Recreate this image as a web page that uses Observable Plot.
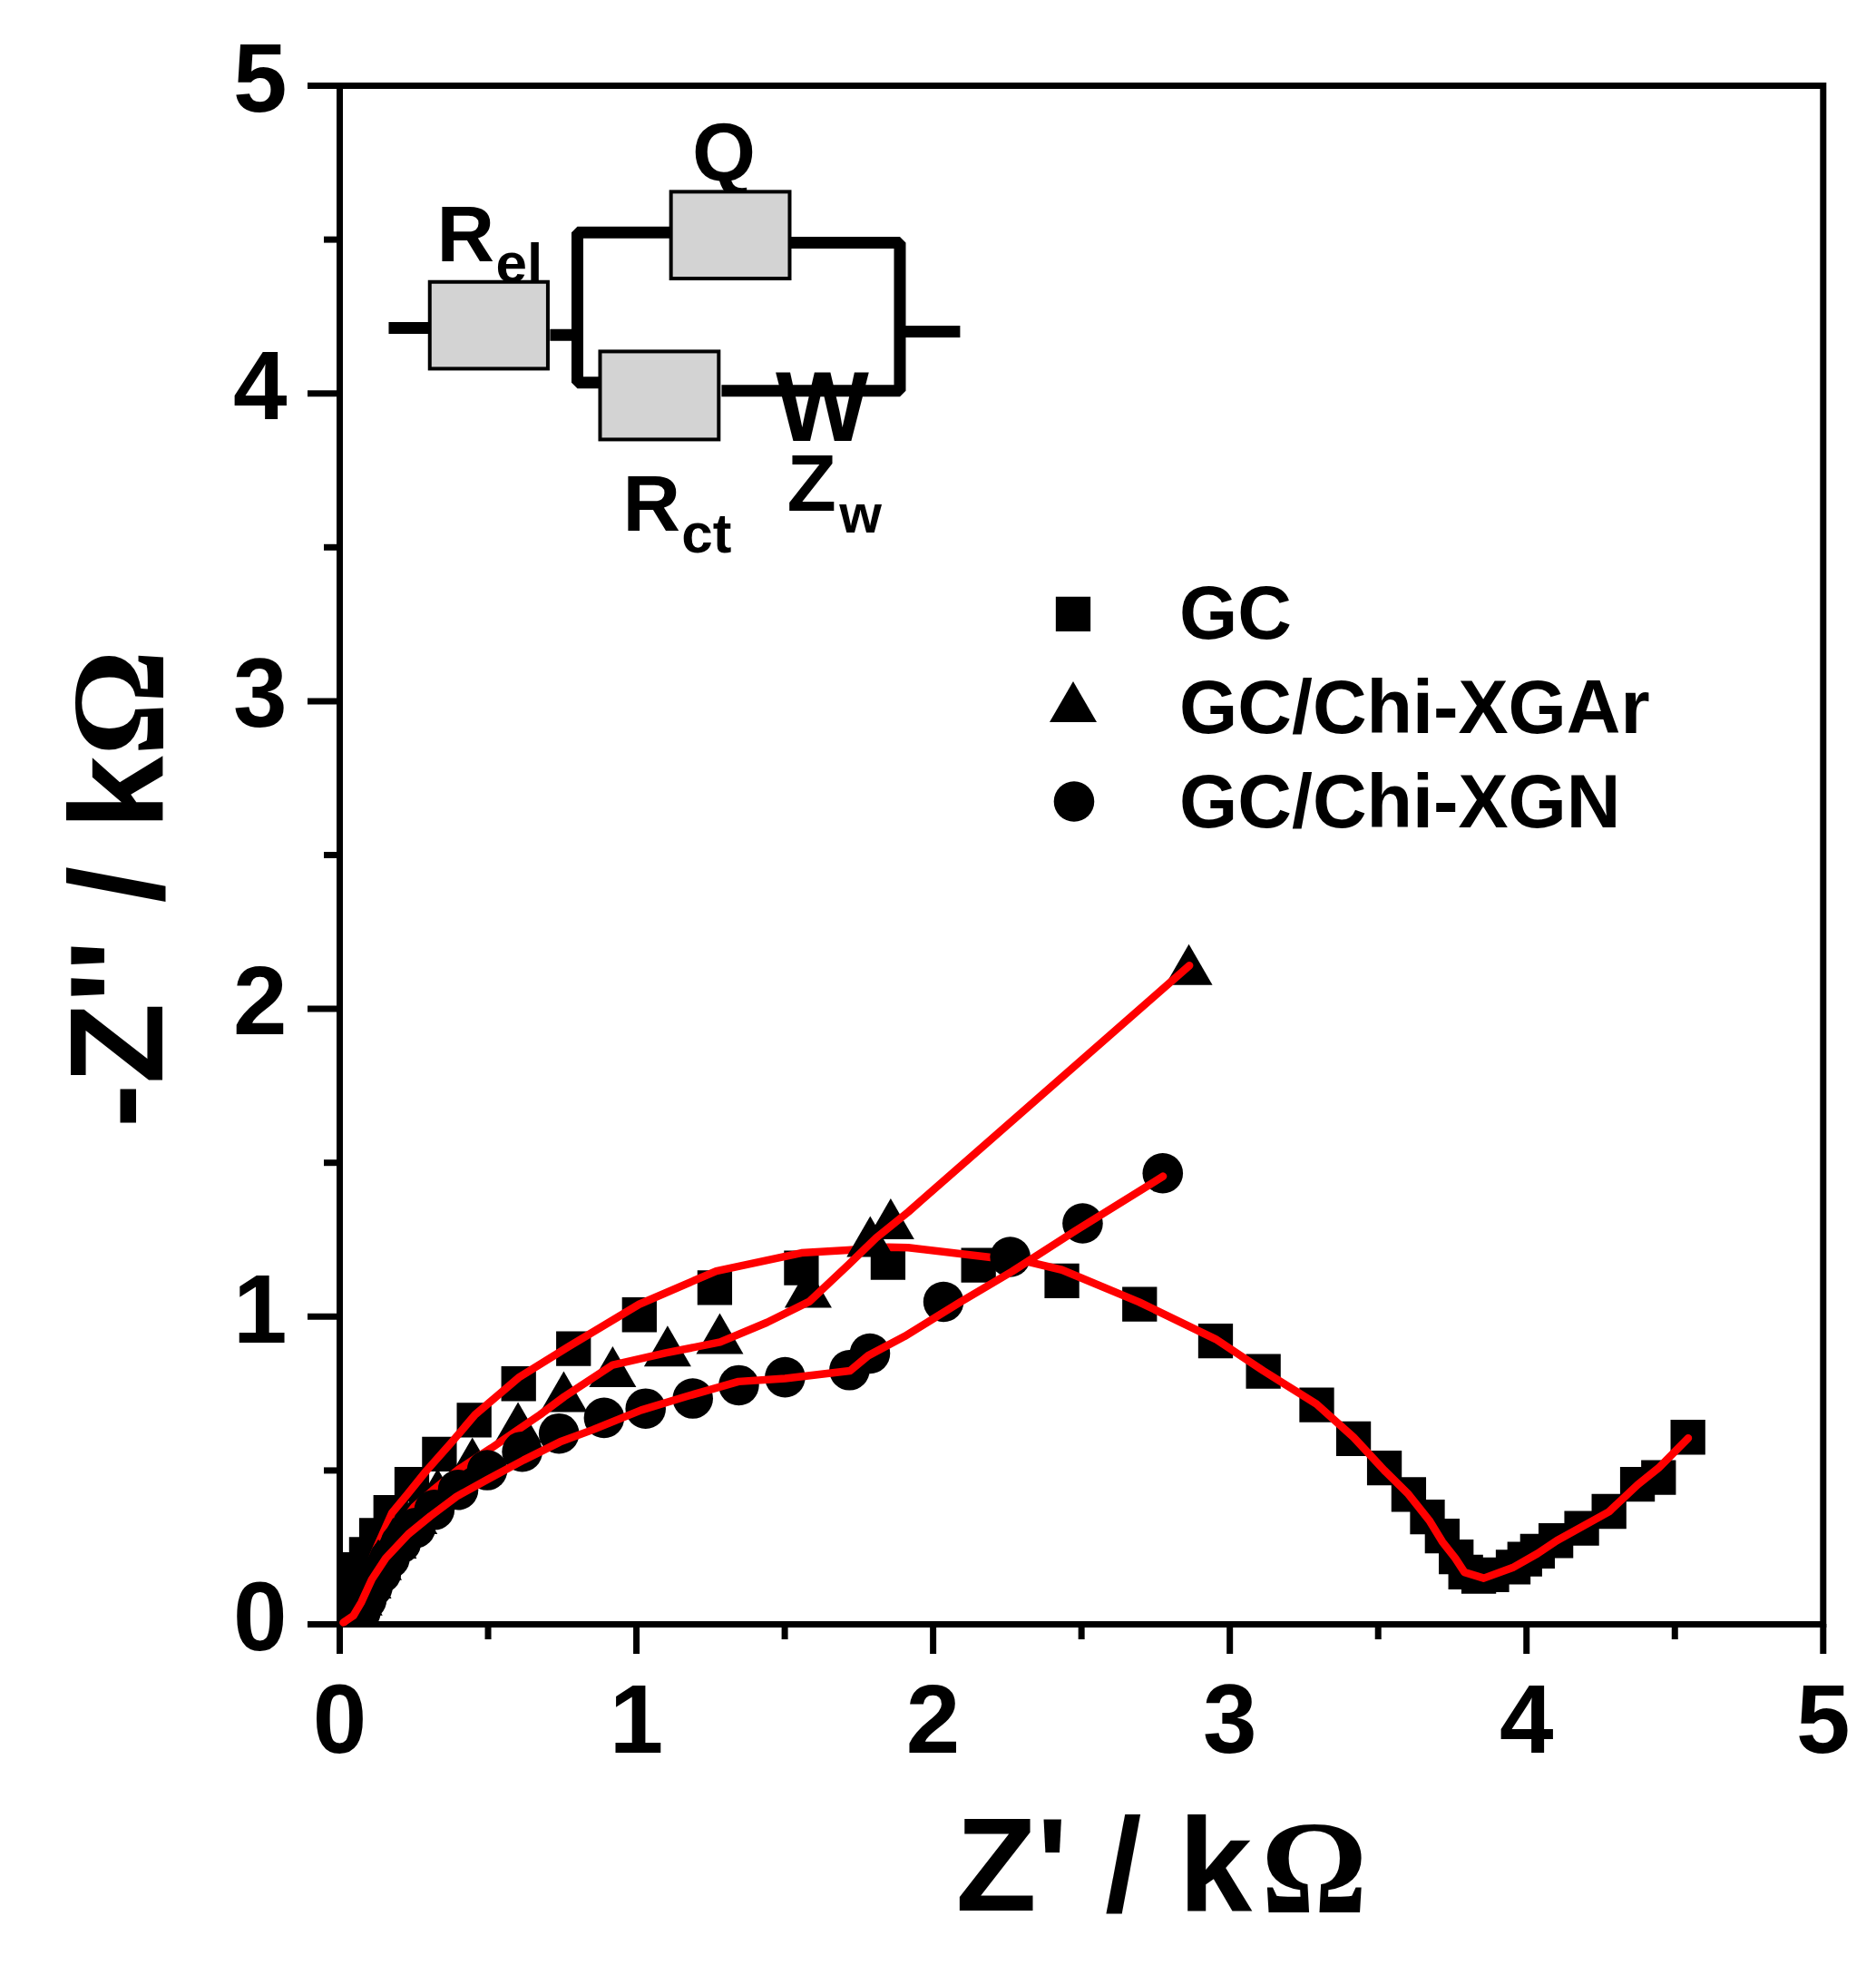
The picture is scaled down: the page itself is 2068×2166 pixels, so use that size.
<!DOCTYPE html>
<html>
<head>
<meta charset="utf-8">
<script src="https://cdn.jsdelivr.net/npm/d3@7"></script>
<script src="https://cdn.jsdelivr.net/npm/@observablehq/plot@0.6"></script>
<style>html,body{margin:0;padding:0;background:#fff}svg{display:block}</style>
</head>
<body>
<div id="chart"></div>
<script>
// measured points (k-ohm)
const gcX = [0.008,0.016,0.024,0.034,0.049,0.090,0.124,0.172,0.243,0.336,0.453,0.603,0.788,1.010,1.264,1.556,1.848,2.153,2.434,2.696,2.952,3.113,3.293,3.417,3.521,3.603,3.666,3.716,3.763,3.795,3.839,3.883,3.955,3.994,4.037,4.099,4.186,4.278,4.374,4.445,4.544];
const gcY = [0.030,0.065,0.100,0.140,0.178,0.227,0.289,0.364,0.455,0.553,0.664,0.782,0.896,1.006,1.094,1.158,1.176,1.167,1.116,1.040,0.921,0.822,0.713,0.603,0.508,0.422,0.349,0.287,0.219,0.170,0.156,0.161,0.186,0.212,0.238,0.272,0.312,0.367,0.455,0.477,0.608];
const arX = [0.020,0.040,0.065,0.095,0.130,0.180,0.250,0.330,0.447,0.601,0.755,0.920,1.105,1.281,1.579,1.788,1.857,2.862];
const arY = [0.010,0.045,0.095,0.150,0.210,0.280,0.360,0.440,0.541,0.656,0.756,0.837,0.904,0.945,1.095,1.260,1.318,2.144];
const nX = [0.055,0.070,0.090,0.110,0.139,0.168,0.206,0.255,0.319,0.399,0.497,0.615,0.739,0.891,1.031,1.190,1.345,1.501,1.718,1.787,2.035,2.260,2.504,2.774];
const nY = [0.000,0.040,0.080,0.120,0.166,0.214,0.264,0.313,0.372,0.437,0.501,0.561,0.620,0.671,0.701,0.734,0.777,0.803,0.826,0.880,1.048,1.194,1.303,1.466];
// fitted curves
const gcFitX = [0.015,0.045,0.075,0.120,0.176,0.231,0.292,0.374,0.456,0.606,0.770,1.009,1.269,1.556,1.713,1.849,1.916,2.188,2.320,2.434,2.695,2.952,3.113,3.292,3.417,3.521,3.602,3.672,3.716,3.760,3.791,3.856,3.953,4.037,4.102,4.278,4.375,4.445,4.545];
const gcFitY = [0.008,0.060,0.130,0.240,0.362,0.426,0.499,0.588,0.681,0.804,0.902,1.040,1.148,1.207,1.216,1.226,1.224,1.193,1.178,1.152,1.047,0.927,0.824,0.716,0.608,0.500,0.423,0.338,0.269,0.215,0.169,0.150,0.184,0.230,0.272,0.366,0.454,0.508,0.605];
const arFitX = [0.015,0.060,0.110,0.175,0.251,0.319,0.401,0.511,0.593,0.675,0.757,0.920,1.098,1.282,1.440,1.583,1.713,1.808,1.916,2.864];
const arFitY = [0.008,0.070,0.180,0.290,0.382,0.440,0.504,0.573,0.627,0.681,0.740,0.843,0.882,0.917,0.981,1.049,1.167,1.256,1.340,2.141];
const nFitX = [0.012,0.046,0.073,0.108,0.155,0.231,0.306,0.395,0.497,0.620,0.743,0.852,1.016,1.166,1.344,1.501,1.720,1.781,1.904,2.091,2.267,2.478,2.775];
const nFitY = [0.006,0.028,0.072,0.146,0.215,0.293,0.352,0.416,0.470,0.534,0.593,0.632,0.696,0.740,0.789,0.799,0.824,0.873,0.936,1.047,1.147,1.278,1.456];
// axis
const majorTicks = [0,1,2,3,4,5];
const minorTicks = [0.5,1.5,2.5,3.5,4.5];
// legend
const legendNames = ["GC","GC/Chi-XGAr","GC/Chi-XGN"];
const legendSymbolX = [2.472,2.472,2.475];
const legendSymbolY = [3.283,2.998,2.674];
const legendTextX = 2.83;
const legendTextY = [3.202,2.896,2.591];
// circuit inset (in axis units)
const boxX1 = [0.305,1.118,0.879], boxX2 = [0.703,1.518,1.279];
const boxY1 = [4.079,4.372,3.849], boxY2 = [4.361,4.654,4.135];
const wires = [
  [[0.165,4.213],[0.305,4.213]],
  [[0.709,4.190],[0.801,4.190]],
  [[1.118,4.523],[0.801,4.523],[0.801,4.035],[0.879,4.035]],
  [[1.518,4.490],[1.888,4.490],[1.888,4.009],[1.287,4.009]],
  [[1.895,4.201],[2.091,4.201]]
];
const circuitLabels = [
  {t:"Q",x:1.295,y:4.693,s:90,a:"middle"},
  {t:"R",x:0.327,y:4.429,s:88,a:"start"},
  {t:"el",x:0.526,y:4.363,s:62,a:"start"},
  {t:"R",x:0.954,y:3.554,s:88,a:"start"},
  {t:"ct",x:1.152,y:3.482,s:62,a:"start"},
  {t:"Z",x:1.507,y:3.620,s:89,a:"start"},
  {t:"w",x:1.684,y:3.548,s:60,a:"start"},
  {t:"W",x:1.469,y:3.847,s:109,a:"start"}
];

const rows = (xs, ys) => xs.map((x, i) => ({x, y: ys[i]}));
const sans = "'Liberation Sans', Arial, sans-serif";
const serif = "'Liberation Serif', 'Times New Roman', serif";
const triangle = {
  draw(ctx, size) {
    const r = Math.sqrt(size / Math.PI), w = r * 1.156;
    ctx.moveTo(0, -r); ctx.lineTo(w, r); ctx.lineTo(-w, r); ctx.closePath();
  }
};
const black = {fill: "black", stroke: "none"};
const squareOpts = {...black, symbol: "square", r: 21.6};
const triOpts = {...black, symbol: triangle, r: 22.5};
const circleOpts = {...black, r: 22.3};
const fit = {x: "x", y: "y", stroke: "#ff0000", strokeWidth: 8.5, strokeLinejoin: "round", strokeLinecap: "round"};
const text = {textAnchor: "start", lineAnchor: "bottom", fontFamily: sans, fontWeight: 700, fill: "black"};

const chart = Plot.plot({
  width: 2068, height: 2166,
  marginLeft: 374, marginRight: 58.7, marginTop: 94, marginBottom: 376,
  style: {background: "white", overflow: "visible"},
  x: {domain: [0, 5], axis: null},
  y: {domain: [0, 5], axis: null},
  marks: [
    Plot.frame({stroke: "black", strokeWidth: 7}),
    Plot.axisX({ticks: majorTicks, tickSize: 33, tickPadding: 33, strokeWidth: 7, fontSize: 107, fontWeight: 700, fontFamily: sans, label: null, tickFormat: d3.format("d")}),
    Plot.axisX({ticks: minorTicks, tickSize: 17, strokeWidth: 7, tickFormat: () => "", label: null}),
    Plot.axisY({ticks: majorTicks, tickSize: 35, strokeWidth: 7, tickFormat: () => "", label: null}),
    Plot.axisY({ticks: minorTicks, tickSize: 17, strokeWidth: 7, tickFormat: () => "", label: null}),
    Plot.axisY({ticks: majorTicks, tickSize: 0, tickPadding: 58, dy: -6, fontSize: 107, fontWeight: 700, fontFamily: sans, label: null, tickFormat: d3.format("d")}),

    Plot.dot(rows(gcX, gcY), {x: "x", y: "y", clip: true, ...squareOpts}),
    Plot.line(rows(gcFitX, gcFitY), fit),
    Plot.dot(rows(arX, arY), {x: "x", y: "y", clip: true, ...triOpts}),
    Plot.line(rows(arFitX, arFitY), fit),
    Plot.dot(rows(nX, nY), {x: "x", y: "y", clip: true, ...circleOpts}),
    Plot.line(rows(nFitX, nFitY), fit),

    // axis titles
    Plot.text(["Z' / k"], {x: [2.076], y: [-0.931], ...text, fontSize: 146}),
    Plot.text(["Ω"], {x: [3.106], y: [-0.937], ...text, fontFamily: serif, fontSize: 146}),
    Plot.text(["-Z'' / k"], {x: [-0.599], y: [1.613], ...text, rotate: -90, fontSize: 146}),
    Plot.text(["Ω"], {x: [-0.596], y: [2.822], ...text, rotate: -90, fontFamily: serif, fontSize: 146}),

    // legend
    Plot.dot([0], {x: [legendSymbolX[0]], y: [legendSymbolY[0]], ...squareOpts}),
    Plot.dot([0], {x: [legendSymbolX[1]], y: [legendSymbolY[1]], ...triOpts}),
    Plot.dot([0], {x: [legendSymbolX[2]], y: [legendSymbolY[2]], ...circleOpts}),
    Plot.text(legendNames, {x: legendNames.map(() => legendTextX), y: legendTextY, ...text, fontSize: 82.6}),

    // equivalent circuit
    Plot.text(circuitLabels, {x: "x", y: "y", text: "t", ...text, fontSize: "s", textAnchor: "start", filter: d => d.a === "start"}),
    Plot.text(circuitLabels, {x: "x", y: "y", text: "t", ...text, fontSize: "s", textAnchor: "middle", filter: d => d.a === "middle"}),
    ...wires.map(w => Plot.line(w, {x: d => d[0], y: d => d[1], stroke: "black", strokeWidth: 13, strokeLinejoin: "miter", strokeLinecap: "butt"})),
    Plot.rect(boxX1.map((x1, i) => i), {x1: i => boxX1[i], x2: i => boxX2[i], y1: i => boxY1[i], y2: i => boxY2[i], fill: "#d3d3d3", stroke: "black", strokeWidth: 4})
  ]
});
document.getElementById("chart").append(chart);
</script>
</body>
</html>
